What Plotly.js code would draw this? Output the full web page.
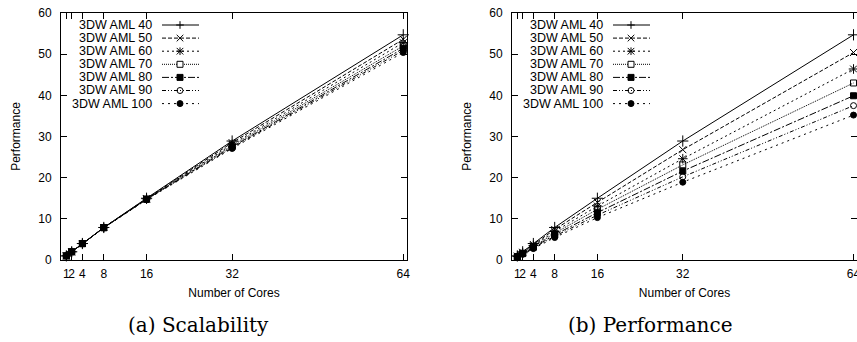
<!DOCTYPE html>
<html>
<head>
<meta charset="utf-8">
<script src="https://cdn.plot.ly/plotly-3.0.1.min.js"></script>
<style>html,body{margin:0;padding:0;background:#fff;}#chart{width:857px;height:342px;}</style>
</head>
<body>
<div id="chart"></div>
<script>
// ---------------- DATA ----------------
const cores = [1, 2, 4, 8, 16, 32, 64];
const seriesNames = ['3DW AML 40', '3DW AML 50', '3DW AML 60', '3DW AML 70', '3DW AML 80', '3DW AML 90', '3DW AML 100'];
const xTickVals = [1, 2, 4, 8, 16, 32, 64];
const xTickText = ['1', '2', '4', '8', '16', '32', '64'];
const yTickVals = [0, 10, 20, 30, 40, 50, 60];

// (a) Scalability
const scal40  = [1.00, 2.00, 4.00, 7.90, 15.00, 28.90, 54.70];
const scal50  = [1.00, 2.00, 4.00, 7.89, 14.90, 28.50, 53.60];
const scal60  = [1.00, 2.00, 3.99, 7.88, 14.85, 28.10, 52.80];
const scal70  = [1.00, 1.99, 3.98, 7.86, 14.80, 27.80, 52.00];
const scal80  = [1.00, 1.99, 3.97, 7.84, 14.75, 27.50, 51.40];
const scal90  = [1.00, 1.99, 3.96, 7.82, 14.70, 27.30, 50.90];
const scal100 = [1.00, 1.99, 3.95, 7.80, 14.65, 27.10, 50.40];

// (b) Performance
const perf40  = [1.00, 2.00, 4.00, 7.90, 15.00, 28.90, 54.70];
const perf50  = [0.94, 1.88, 3.76, 7.42, 14.00, 26.80, 50.40];
const perf60  = [0.88, 1.76, 3.51, 6.93, 13.10, 24.60, 46.40];
const perf70  = [0.83, 1.65, 3.30, 6.52, 12.30, 23.10, 43.00];
const perf80  = [0.78, 1.55, 3.09, 6.11, 11.50, 21.60, 39.90];
const perf90  = [0.74, 1.47, 2.93, 5.78, 10.90, 20.20, 37.50];
const perf100 = [0.70, 1.39, 2.77, 5.46, 10.30, 18.90, 35.20];

const scalSeries = [scal40, scal50, scal60, scal70, scal80, scal90, scal100];
const perfSeries = [perf40, perf50, perf60, perf70, perf80, perf90, perf100];

// ---------------- STYLES ----------------
const dashes = ['solid', '4px,2px', '2px,3px', '1px,1px', '7px,2px,2px,2px', '4px,2px,1px,2px,1px,2px', '2px,4px'];
const symbols = ['cross-thin-open', 'x-thin-open', 'asterisk-open', 'square-open', 'square', 'circle-open', 'circle'];
const msizes = [8, 7, 8, 6, 6, 6, 6];
const tickFont = {family: 'Liberation Sans, Arial, sans-serif', size: 12, color: '#000'};

const W = 857, H = 342;
const pxX = x => x / W;
const pxY = y => 1 - y / H;
// plot geometry (pixels)
const plotTop = 13, plotBottom = 260;
const plots = [{x0: 61, x1: 407, xa: 'x', ya: 'y', range: [0, 64.7]},
               {x0: 512, x1: 857, xa: 'x2', ya: 'y2', range: [0, 64.65]}];

const traces = [];
[scalSeries, perfSeries].forEach((set, p) => {
  set.forEach((vals, i) => {
    traces.push({
      type: 'scatter', mode: 'lines+markers',
      x: cores, y: vals, name: seriesNames[i],
      xaxis: plots[p].xa, yaxis: plots[p].ya,
      showlegend: false, cliponaxis: false,
      line: {color: '#000', width: 1, dash: dashes[i]},
      marker: {symbol: symbols[i], size: msizes[i], color: '#000', line: {color: '#000', width: 1}}
    });
  });
});

function axisX(p, anchor) {
  return {
    domain: [pxX(plots[p].x0), Math.min(1, pxX(plots[p].x1))], anchor: anchor,
    range: plots[p].range, tickmode: 'array', tickvals: xTickVals, ticktext: xTickText,
    ticks: 'inside', ticklen: 6, tickwidth: 1, tickcolor: '#000', tickangle: 0,
    ticklabeloverflow: 'allow',
    showline: true, mirror: 'ticks', linecolor: '#000', linewidth: 1,
    showgrid: false, zeroline: false, tickfont: tickFont, ticklabelstandoff: 3,
    title: {text: 'Number of Cores', font: tickFont, standoff: 8}
  };
}
function axisY(p, anchor) {
  return {
    domain: [pxY(plotBottom), pxY(plotTop)], anchor: anchor,
    range: [0, 60], tickmode: 'array', tickvals: yTickVals,
    ticks: 'inside', ticklen: 6, tickwidth: 1, tickcolor: '#000',
    showline: true, mirror: 'ticks', linecolor: '#000', linewidth: 1,
    showgrid: false, zeroline: false, tickfont: tickFont, ticklabelstandoff: 6,
    title: {text: 'Performance', font: tickFont, standoff: 15}
  };
}

// ---------------- custom gnuplot-style key ----------------
const keyTextOffset = 93, keyLineStart = 101, keyLineEnd = 138, keyMarkX = 119;
const keyRow0 = 25, keyRowStep = 13.1;
const shapes = [], annotations = [];
plots.forEach(pl => {
  seriesNames.forEach((nm, i) => {
    const yy = keyRow0 + i * keyRowStep;
    annotations.push({xref: 'paper', yref: 'paper', x: pxX(pl.x0 + keyTextOffset), y: pxY(yy),
      xanchor: 'right', yanchor: 'middle', showarrow: false, text: nm,
      font: {family: 'Liberation Sans, Arial, sans-serif', size: 12.5, color: '#000'}});
    shapes.push({type: 'line', xref: 'paper', yref: 'paper',
      x0: pxX(pl.x0 + keyLineStart), x1: pxX(pl.x0 + keyLineEnd), y0: pxY(yy), y1: pxY(yy),
      line: {color: '#000', width: 1, dash: dashes[i]}});
    const cx = pl.x0 + keyMarkX, r = 3.3;
    const L = (ax, ay, bx, by) => shapes.push({type: 'line', xref: 'paper', yref: 'paper',
      x0: pxX(ax), y0: pxY(ay), x1: pxX(bx), y1: pxY(by), line: {color: '#000', width: 1}});
    const s = symbols[i];
    if (s === 'cross-thin-open' || s === 'asterisk-open') { L(cx - r - 0.5, yy, cx + r + 0.5, yy); L(cx, yy - r - 0.5, cx, yy + r + 0.5); }
    if (s === 'x-thin-open' || s === 'asterisk-open') { L(cx - r, yy - r, cx + r, yy + r); L(cx - r, yy + r, cx + r, yy - r); }
    if (s === 'square-open' || s === 'square') {
      shapes.push({type: 'rect', xref: 'paper', yref: 'paper', x0: pxX(cx - 3), x1: pxX(cx + 3), y0: pxY(yy + 3), y1: pxY(yy - 3),
        line: {color: '#000', width: 1}, fillcolor: s === 'square' ? '#000' : '#fff'});
    }
    if (s === 'circle-open' || s === 'circle') {
      shapes.push({type: 'circle', xref: 'paper', yref: 'paper', x0: pxX(cx - 3), x1: pxX(cx + 3), y0: pxY(yy + 3), y1: pxY(yy - 3),
        line: {color: '#000', width: 1}, fillcolor: s === 'circle' ? '#000' : 'rgba(0,0,0,0)'});
    }
  });
});
// sub-captions
const captionFont = {family: 'DejaVu Serif, serif', size: 20, color: '#000'};
annotations.push({xref: 'paper', yref: 'paper', x: pxX(198), y: pxY(325), xanchor: 'center', yanchor: 'middle', showarrow: false, text: '(a) Scalability', font: captionFont});
annotations.push({xref: 'paper', yref: 'paper', x: pxX(650), y: pxY(325), xanchor: 'center', yanchor: 'middle', showarrow: false, text: '(b) Performance', font: captionFont});

const layout = {
  width: W, height: H, margin: {l: 0, r: 0, t: 0, b: 0},
  paper_bgcolor: '#fff', plot_bgcolor: '#fff', showlegend: false,
  xaxis: axisX(0, 'y'), yaxis: axisY(0, 'x'),
  xaxis2: axisX(1, 'y2'), yaxis2: axisY(1, 'x2'),
  shapes: shapes, annotations: annotations
};
Plotly.newPlot('chart', traces, layout, {displayModeBar: false, staticPlot: true});
</script>
</body>
</html>
